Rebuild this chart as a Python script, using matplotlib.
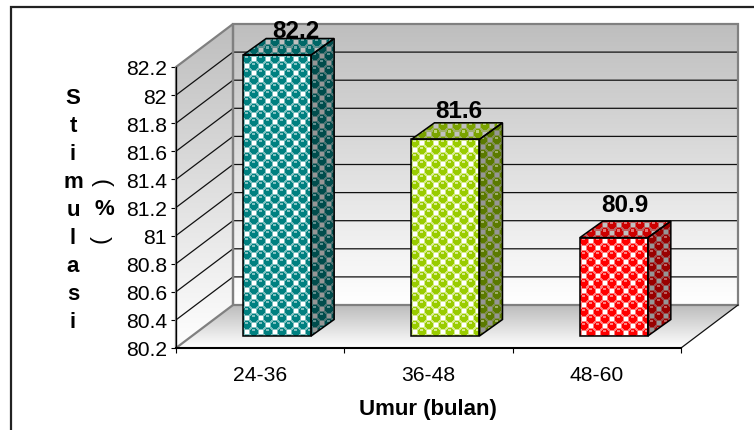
import numpy as np
import matplotlib
matplotlib.use("Agg")
import matplotlib.pyplot as plt
from matplotlib.patches import Polygon, Rectangle

categories = ["24-36", "36-48", "48-60"]
values = [82.2, 81.6, 80.9]
y_ticks = [80.2, 80.4, 80.6, 80.8, 81.0, 81.2, 81.4, 81.6, 81.8, 82.0, 82.2]
y_tick_labels = ["80.2", "80.4", "80.6", "80.8", "81", "81.2", "81.4", "81.6", "81.8", "82", "82.2"]
x_label = "Umur (bulan)"
y_label_a = "Stimulasi"
y_label_b = ["(", "%", ")"]

plt.rcParams['font.family'] = ['Liberation Sans', 'DejaVu Sans']
W, H = 754, 431
fig = plt.figure(figsize=(W / 100, H / 100), dpi=100)
L, R, T, B = 176, 681, 68, 349
ax = fig.add_axes([L / W, 1 - B / H, (R - L) / W, (B - T) / H])
YMIN, YMAX = 80.2, 82.2
ax.set_xlim(-0.5, 2.5)
ax.set_ylim(YMIN, YMAX)
SX = (R - L) / 3
SY = (B - T) / (YMAX - YMIN)
DX, DY = 57 / SX, 43 / SY        # full floor depth
FX, FY = 17 / SX, 12 / SY        # gap in front of bars
BX, BY = 23 / SX, 16.5 / SY      # bar depth
BW = 68 / SX


def clipped_image(arr, poly_xy, zorder, **kw):
    xs = [p[0] for p in poly_xy]
    ys = [p[1] for p in poly_xy]
    im = ax.imshow(arr, extent=(min(xs), max(xs), min(ys), max(ys)), aspect='auto',
                   origin='upper', zorder=zorder, interpolation=kw.pop('interpolation', 'nearest'), **kw)
    poly = Polygon(poly_xy, closed=True, transform=ax.transData)
    im.set_clip_box(fig.bbox)
    im.set_clip_path(poly)


def gradient(c0, c1):
    g = np.linspace(c0, c1, 256)[:, None]
    return np.dstack([g, g, g]) / 255


# walls and floor
back = [(-0.5 + DX, YMIN + DY), (2.5 + DX, YMIN + DY), (2.5 + DX, YMAX + DY), (-0.5 + DX, YMAX + DY)]
left = [(-0.5, YMIN), (-0.5 + DX, YMIN + DY), (-0.5 + DX, YMAX + DY), (-0.5, YMAX)]
floor = [(-0.5, YMIN), (2.5, YMIN), (2.5 + DX, YMIN + DY), (-0.5 + DX, YMIN + DY)]
clipped_image(gradient(190, 255), back, 1, interpolation='bilinear')
clipped_image(gradient(190, 255), left, 1, interpolation='bilinear')
clipped_image(gradient(188, 255), floor, 1, interpolation='bilinear')

for y in y_ticks[1:-1]:
    ax.plot([-0.5, -0.5 + DX, 2.5 + DX], [y, y + DY, y + DY], color='#111111', lw=0.9, zorder=2, clip_on=False)
for poly in (back, left):
    ax.add_patch(Polygon(poly, closed=True, fill=False, ec='#808080', lw=1.6, zorder=2, clip_on=False))
ax.plot([2.5, 2.5 + DX], [YMIN, YMIN + DY], color='#111111', lw=0.9, zorder=2, clip_on=False)


def texture(shape, col, bg, ring, hi):
    h, w = shape
    P = 14
    yy, xx = np.mgrid[0:h, 0:w]
    img = np.ones((h, w, 3)) * np.array(ring)
    for ox, oy in ((10.5, 3.5), (3.5, 10.5)):
        dx = (xx - ox + P / 2) % P - P / 2
        dy = (yy - oy + P / 2) % P - P / 2
        img[(np.abs(dx) < 2.1) & (np.abs(dy) < 2.1)] = bg
    for ox, oy in ((3.5, 3.5), (10.5, 10.5)):
        dx = (xx - ox + P / 2) % P - P / 2
        dy = (yy - oy + P / 2) % P - P / 2
        r = np.hypot(dx, dy)
        img[r < 3.9] = col
        img[(np.abs(dx + 0.5) < 1.6) & (np.abs(dy + 2.2) < 0.8)] = hi
    return img / 255


def shade(c, f):
    return tuple(v * f for v in c)


bar_colors = [(0, 128, 128), (153, 204, 0), (255, 0, 0)]
ring_colors = [(128, 192, 192), (214, 235, 140), (255, 128, 128)]
label_dx = [36, 30, 28]
label_dy = [36, 41, 45]

for i, (v, col, ring) in enumerate(zip(values, bar_colors, ring_colors)):
    x0 = i - BW / 2 + FX
    x1 = x0 + BW
    y0 = YMIN + FY
    y1 = v + FY
    front = [(x0, y0), (x1, y0), (x1, y1), (x0, y1)]
    side = [(x1, y0), (x1 + BX, y0 + BY), (x1 + BX, y1 + BY), (x1, y1)]
    top = [(x0, y1), (x1, y1), (x1 + BX, y1 + BY), (x0 + BX, y1 + BY)]
    for poly, c, bg, rg, hi in (
        (front, col, (255, 255, 255), ring, ring),
        (side, shade(col, 0.6), (150, 150, 150), shade(ring, 0.6), shade(ring, 0.75)),
        (top, shade(col, 0.8), (192, 192, 192), shade(ring, 0.75), shade(ring, 0.9)),
    ):
        xs = [p[0] for p in poly]
        ys = [p[1] for p in poly]
        px = (int(round((max(ys) - min(ys)) * SY)), int(round((max(xs) - min(xs)) * SX)))
        clipped_image(texture(px, c, bg, rg, hi), poly, 3)
        ax.add_patch(Polygon(poly, closed=True, fill=False, ec='black', lw=1.1, zorder=4, clip_on=False))
    ax.annotate(f"{v:.1f}", xy=(i, v), xytext=(label_dx[i], label_dy[i]), textcoords='offset pixels',
                ha='center', va='center', fontsize=17.5, fontweight='bold', color='black',
                zorder=6, annotation_clip=False)

# axes
for s in ('top', 'right'):
    ax.spines[s].set_visible(False)
ax.patch.set_visible(False)
ax.spines['left'].set_linewidth(0.9)
ax.spines['left'].set_zorder(5)
ax.spines['bottom'].set_linewidth(1.5)
ax.spines['bottom'].set_zorder(5)
ax.set_yticks(y_ticks)
ax.set_yticklabels(y_tick_labels, fontsize=15.2)
ax.set_xticks(range(3))
ax.set_xticklabels(categories, fontsize=15.2)
ax.set_xticks([-0.5, 0.5, 1.5, 2.5], minor=True)
ax.tick_params(axis='x', which='major', length=0, pad=12)
ax.tick_params(axis='x', which='minor', length=3.5, width=0.8)
ax.tick_params(axis='y', length=3.5, width=0.8, pad=3)

fig.text(428 / W, 1 - 410 / H, x_label, ha='center', va='center', fontsize=16, fontweight='bold')
for k, ch in enumerate(y_label_a):
    fig.text(73 / W, 1 - (99 + 28 * k) / H, ch, ha='center', va='center', fontsize=16, fontweight='bold')
for ch, x, y, rot, fs, wt in zip(y_label_b, (100, 104, 100), (183, 210, 240), (-90, 0, -90), (17, 16, 17),
                                 ('normal', 'bold', 'normal')):
    fig.text(x / W, 1 - y / H, ch, ha='center', va='center', fontsize=fs, fontweight=wt, rotation=rot)

# outer frame, running off the picture at the right and the bottom
fig.add_artist(Rectangle((11 / W, -0.1), 1.2, 1 - 8 / H + 0.1, transform=fig.transFigure,
                         fill=False, ec='#222222', lw=1.6))
fig.savefig("out.png", dpi=100)
